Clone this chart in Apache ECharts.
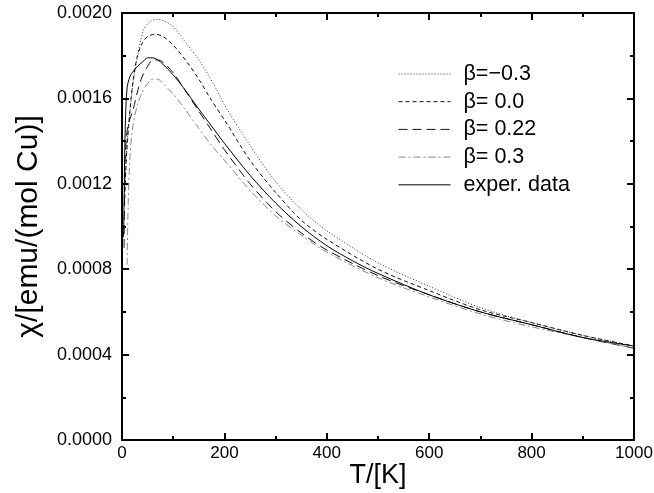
<!DOCTYPE html>
<html>
<head>
<meta charset="utf-8">
<script src="https://cdn.jsdelivr.net/npm/echarts@6/dist/echarts.min.js"></script>
<style>html,body{margin:0;padding:0;background:#fff}#c{width:654px;height:493px}</style>
</head>
<body>
<div id="c"></div>
<script>
// Data (T in K, chi in emu/(mol Cu))
var xTicks = [0, 200, 400, 600, 800, 1000];
var yTicks = [0.0000, 0.0004, 0.0008, 0.0012, 0.0016, 0.0020];
var seriesNames = ["β=−0.3", "β= 0.0", "β= 0.22", "β= 0.3", "exper. data"];

var T_m03 = [6, 10, 16, 22, 29, 42, 55, 68, 85, 100, 125, 153, 185, 200, 250, 300, 350, 400, 500, 600, 700, 800, 900, 1000];
var chi_m03 = [0.00118, 0.00140, 0.00155, 0.00168, 0.00178, 0.00192, 0.00196, 0.00197, 0.00196, 0.001936, 0.00186, 0.00177, 0.00164, 0.00157, 0.00138, 0.00121, 0.00108, 0.00098, 0.00083, 0.00072, 0.00062, 0.00055, 0.00049, 0.00044];

var T_00 = [5, 8, 13, 20, 30, 40, 50, 65, 80, 100, 127, 150, 175, 200, 250, 300, 350, 400, 500, 600, 700, 800, 900, 1000];
var chi_00 = [0.00110, 0.00130, 0.00147, 0.00165, 0.00180, 0.00186, 0.00189, 0.00190, 0.00189, 0.00185, 0.00177, 0.00169, 0.00159, 0.00150, 0.00131, 0.00116, 0.00103, 0.00094, 0.00080, 0.00070, 0.00061, 0.00055, 0.00049, 0.00044];

var T_022 = [4, 6, 10, 15, 22, 30, 39, 50, 60, 70, 80, 100, 120, 150, 175, 200, 250, 300, 350, 400, 500, 600, 700, 800, 900, 1000];
var chi_022 = [0.00090, 0.00130, 0.00145, 0.00150, 0.00155, 0.00163, 0.00170, 0.00175, 0.00178, 0.00178, 0.00177, 0.00172, 0.00165, 0.00154, 0.00145, 0.00136, 0.00120, 0.00107, 0.00097, 0.00089, 0.00077, 0.00068, 0.00060, 0.00054, 0.00048, 0.00043];

var T_03 = [10, 12, 15, 20, 30, 40, 50, 60, 70, 80, 100, 120, 150, 175, 200, 250, 300, 350, 400, 500, 600, 700, 800, 900, 1000];
var chi_03 = [0.00082, 0.00110, 0.00130, 0.00145, 0.00157, 0.00163, 0.00167, 0.00169, 0.00169, 0.00167, 0.00162, 0.00156, 0.00146, 0.00138, 0.00131, 0.00117, 0.00105, 0.00096, 0.00088, 0.00076, 0.00067, 0.00059, 0.00053, 0.00048, 0.00043];

var T_exp = [3, 4, 5, 7, 10, 15, 20, 30, 40, 50, 60, 70, 80, 100, 120, 150, 175, 200, 250, 300, 350, 400, 450, 500, 600, 700, 800, 900, 1000];
var chi_exp = [0.00095, 0.00110, 0.00130, 0.00152, 0.00165, 0.00170, 0.00172, 0.00175, 0.00177, 0.00179, 0.00179, 0.00178, 0.00176, 0.00171, 0.00165, 0.00155, 0.00147, 0.00139, 0.00124, 0.00111, 0.00100, 0.00091, 0.00084, 0.00078, 0.00068, 0.00060, 0.00054, 0.00048, 0.00044];

function zip(a, b) { return a.map(function (v, i) { return [v, b[i]]; }); }

var FONT = "Liberation Sans";
var chart = echarts.init(document.getElementById('c'), null, {renderer: 'canvas'});

var styles = [
  {color: '#333', width: 1, type: [1, 2]},
  {color: '#111', width: 1, type: [4, 3]},
  {color: '#111', width: 1, type: [9, 5]},
  {color: '#888', width: 1, type: [7, 3, 2, 3]},
  {color: '#000', width: 1, type: 'solid'}
];
var dataSets = [zip(T_m03, chi_m03), zip(T_00, chi_00), zip(T_022, chi_022), zip(T_03, chi_03), zip(T_exp, chi_exp)];

var series = seriesNames.map(function (n, i) {
  return {
    name: n, type: 'line', data: dataSets[i], showSymbol: false, symbol: 'none',
    smooth: 0.3, lineStyle: styles[i], itemStyle: {color: styles[i].color}, z: 3 + i,
    xAxisIndex: 0, yAxisIndex: 0
  };
});

function mkAxis(type, pos, min, max, interval, showLabel) {
  return {
    type: 'value', position: pos, min: min, max: max, interval: interval,
    axisLine: {show: true, onZero: false, lineStyle: {color: '#000', width: 2}},
    axisTick: {show: true, inside: true, length: 7, lineStyle: {color: '#000', width: 2}},
    minorTick: {show: true, splitNumber: 2, length: 4, lineStyle: {color: '#000', width: 2}},
    splitLine: {show: false},
    minorSplitLine: {show: false},
    axisLabel: {show: showLabel}
  };
}

var xb = mkAxis('value', 'bottom', xTicks[0], xTicks[xTicks.length - 1], 200, true);
xb.name = 'T/[K]'; xb.nameLocation = 'middle'; xb.nameGap = 22; xb.nameMoveOverlap = false;
xb.nameTextStyle = {fontFamily: FONT, fontSize: 27, color: '#000', verticalAlign: 'top'};
xb.axisLabel = {show: true, fontFamily: FONT, fontSize: 17, color: '#000', margin: 5,
  formatter: function (v) { return String(v); }};
var xt = mkAxis('value', 'top', 0, 1000, 200, false);

var yl = mkAxis('value', 'left', yTicks[0], yTicks[yTicks.length - 1], 0.0004, true);
yl.name = 'χ/[emu/(mol Cu)]'; yl.nameLocation = 'middle'; yl.nameGap = 78; yl.nameRotate = 90;
yl.nameMoveOverlap = false;
yl.nameTextStyle = {fontFamily: FONT, fontSize: 30, color: '#000'};
yl.axisLabel = {show: true, fontFamily: FONT, fontSize: 18, color: '#000', margin: 10,
  formatter: function (v) { return v.toFixed(4); }};
var yr = mkAxis('value', 'right', 0, 0.002, 0.0004, false);

chart.setOption({
  animation: false,
  backgroundColor: '#fff',
  grid: {left: 122, right: 20, top: 13, bottom: 53, show: false, containLabel: false, outerBoundsMode: 'none'},
  legend: {
    data: seriesNames, orient: 'vertical', left: 393, top: 58,
    itemWidth: 52, itemHeight: 14, itemGap: 5.7,
    itemStyle: {opacity: 0, borderWidth: 0},
    lineStyle: {width: 1},
    textStyle: {fontFamily: FONT, fontSize: 21.5, lineHeight: 21, color: '#000', padding: [0, 0, 0, 8]}
  },
  xAxis: [xb, xt],
  yAxis: [yl, yr],
  series: series
});
</script>
</body>
</html>
